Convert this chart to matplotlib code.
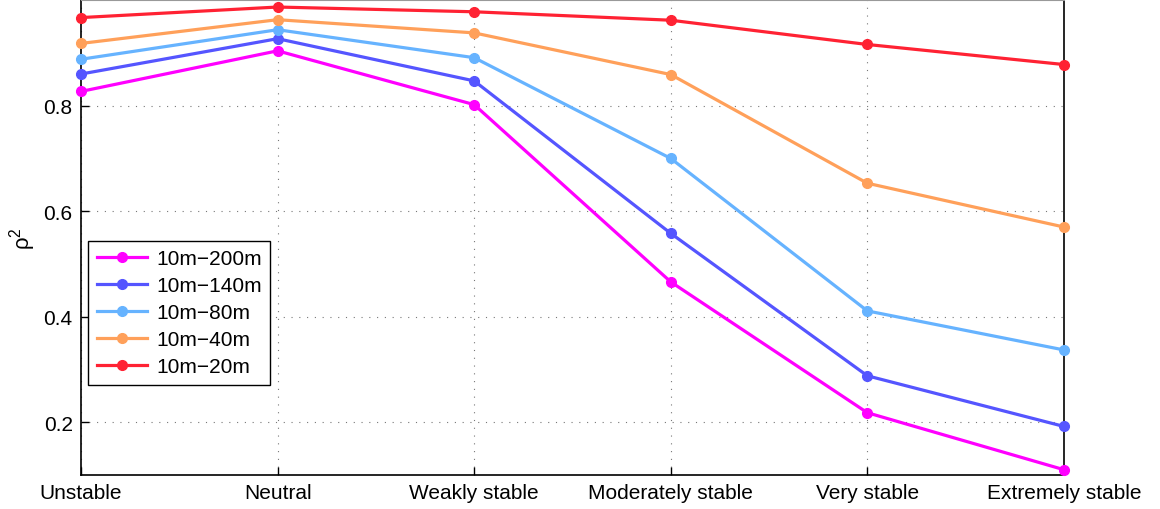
import matplotlib
matplotlib.use("Agg")
import matplotlib.pyplot as plt

plt.rcParams['font.family'] = ['Liberation Sans', 'DejaVu Sans']

categories = ['Unstable', 'Neutral', 'Weakly stable', 'Moderately stable',
              'Very stable', 'Extremely stable']

rho_200 = [0.827, 0.904, 0.802, 0.466, 0.218, 0.110]
rho_140 = [0.860, 0.927, 0.847, 0.558, 0.288, 0.192]
rho_80 = [0.888, 0.944, 0.891, 0.700, 0.411, 0.337]
rho_40 = [0.918, 0.963, 0.938, 0.859, 0.653, 0.570]
rho_20 = [0.967, 0.987, 0.978, 0.962, 0.916, 0.878]

series = [
    ('10m\u2212200m', rho_200, '#ff00ff'),
    ('10m\u2212140m', rho_140, '#5555ff'),
    ('10m\u221280m', rho_80, '#66b3ff'),
    ('10m\u221240m', rho_40, '#ffa05a'),
    ('10m\u221220m', rho_20, '#ff2233'),
]

fig = plt.figure(figsize=(11.6, 5.1), dpi=100)
ax = fig.add_axes([0.0698, 0.0667, 0.8474, 0.931])

x = range(len(categories))
for label, vals, color in series:
    ax.plot(x, vals, '-o', color=color, lw=2.3, ms=7, label=label, clip_on=False, zorder=3)

ax.set_xlim(0, len(categories) - 1)
ax.set_ylim(0.1, 1.0)
ax.set_xticks(list(x))
ax.set_xticklabels(categories)
ax.set_yticks([0.2, 0.4, 0.6, 0.8])
ax.set_yticklabels(['0.2', '0.4', '0.6', '0.8'])
ax.tick_params(direction='in', labelsize=15, length=6, width=1, pad=6)
ax.grid(True, linestyle=(0, (1, 6)), color='#777777', lw=0.8)
for side in ['left', 'bottom', 'right']:
    ax.spines[side].set_linewidth(1.2)
ax.spines['top'].set_color('#999999')

# rho squared, upright
ax.set_ylabel(r'$\mathregular{\rho^2}$', fontsize=16, labelpad=4)

leg = ax.legend(loc='lower left', bbox_to_anchor=(0.007, 0.19), fontsize=15,
                fancybox=False, edgecolor='black', framealpha=1,
                handlelength=2.4, handletextpad=0.45, borderpad=0.42,
                labelspacing=0.38, borderaxespad=0)
leg.get_frame().set_linewidth(1.0)

fig.savefig('out.png', dpi=100)
